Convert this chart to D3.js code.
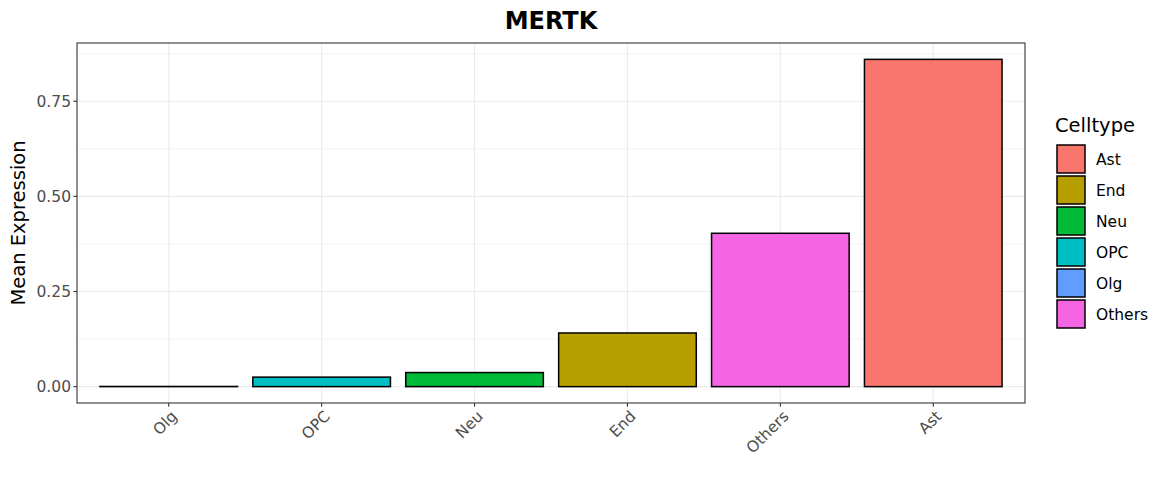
<!DOCTYPE html>
<html><head><meta charset="utf-8">
<script src="https://cdn.jsdelivr.net/npm/d3@7"></script>
<style>body{margin:0;background:#fff;} text{font-family:"DejaVu Sans",sans-serif;}</style>
</head><body>
<svg id="c" width="1170" height="494"></svg>
<script>
const categories = ["Olg","OPC","Neu","End","Others","Ast"];
const values = [0.0005, 0.025, 0.037, 0.141, 0.403, 0.860];
const legendOrder = ["Ast","End","Neu","OPC","Olg","Others"];
const legendColors = ["#F8766D","#B79F00","#00BA38","#00BFC4","#619CFF","#F564E3"];
const yTicks = [0, 0.25, 0.5, 0.75];
const yMinor = [0.125, 0.375, 0.625, 0.875];

const svg = d3.select("#c");
const L = 77, R = 1025, T = 43, B = 403;
const color = d3.scaleOrdinal().domain(legendOrder).range(legendColors);
const ymax = d3.max(values);
const y = d3.scaleLinear().domain([-0.05*ymax, 1.05*ymax]).range([B, T]);
// ggplot discrete axis: 0.6 unit expansion each side, bar width 0.9 unit
const x = d3.scalePoint().domain(categories).range([L, R]).padding(0.6);
const step = x.step();
const cx = c => x(c);
const bw = step*0.9;

const g = svg.append("g");
g.selectAll(".mn").data(yMinor.filter(v=>y(v)>T)).enter().append("line")
 .attr("x1",L).attr("x2",R).attr("y1",d=>y(d)).attr("y2",d=>y(d))
 .attr("stroke","#EBEBEB").attr("stroke-width",0.6);
g.selectAll(".mj").data(yTicks).enter().append("line")
 .attr("x1",L).attr("x2",R).attr("y1",d=>y(d)).attr("y2",d=>y(d))
 .attr("stroke","#EBEBEB").attr("stroke-width",1.1);
g.selectAll(".vx").data(categories).enter().append("line")
 .attr("x1",d=>cx(d)).attr("x2",d=>cx(d)).attr("y1",T).attr("y2",B)
 .attr("stroke","#EBEBEB").attr("stroke-width",1.1);
g.selectAll(".bar").data(categories).enter().append("rect")
 .attr("x",d=>cx(d)-bw/2).attr("width",bw)
 .attr("y",(d,i)=>y(values[i])).attr("height",(d,i)=>Math.max(0,y(0)-y(values[i])))
 .attr("fill",d=>color(d)).attr("stroke","#000").attr("stroke-width",1.5);
svg.append("rect").attr("x",L).attr("y",T).attr("width",R-L).attr("height",B-T)
 .attr("fill","none").attr("stroke","#333333").attr("stroke-width",1.1);
const ya = svg.append("g");
yTicks.forEach(v=>{
  ya.append("line").attr("x1",L-3.7).attr("x2",L).attr("y1",y(v)).attr("y2",y(v)).attr("stroke","#333").attr("stroke-width",1.1);
  ya.append("text").attr("x",L-6).attr("y",y(v)).attr("dy","0.36em").attr("text-anchor","end")
   .attr("font-size",15.5).attr("fill","#4D4D4D").text(d3.format(".2f")(v));
});
categories.forEach(c=>{
  const xx = cx(c);
  svg.append("line").attr("x1",xx).attr("x2",xx).attr("y1",B).attr("y2",B+3.7).attr("stroke","#333").attr("stroke-width",1.1);
  svg.append("text").attr("transform",`translate(${xx+1},${B+6}) rotate(-45)`)
   .attr("text-anchor","end").attr("dy","0.76em").attr("font-size",15.5).attr("fill","#4D4D4D").text(c);
});
svg.append("text").attr("x",(L+R)/2).attr("y",28.5).attr("text-anchor","middle")
 .attr("font-size",24).attr("font-weight","bold").attr("fill","#000").text("MERTK");
svg.append("text").attr("transform",`translate(25,${(T+B)/2}) rotate(-90)`).attr("text-anchor","middle")
 .attr("font-size",19.5).attr("fill","#000").text("Mean Expression");
const lg = svg.append("g");
lg.append("text").attr("x",1055).attr("y",132).attr("font-size",19.5).attr("fill","#000").text("Celltype");
legendOrder.forEach((k,i)=>{
  const yy = 145 + i*31;
  lg.append("rect").attr("x",1057).attr("y",yy).attr("width",28).attr("height",28)
    .attr("fill",color(k)).attr("stroke","#000").attr("stroke-width",1.5);
  lg.append("text").attr("x",1096).attr("y",yy+14).attr("dy","0.36em").attr("font-size",15.5).attr("fill","#000").text(k);
});
</script>
</body></html>
